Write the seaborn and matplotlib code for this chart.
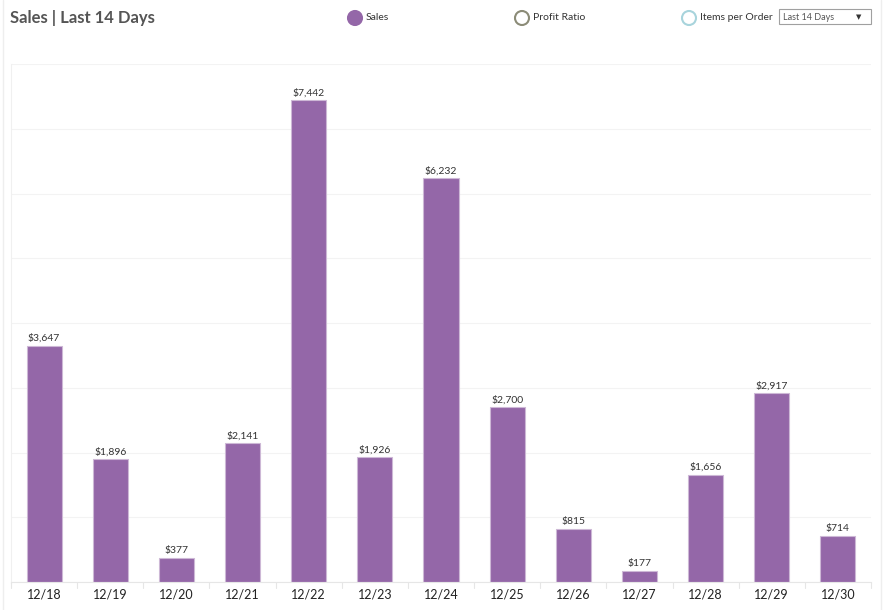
import matplotlib
matplotlib.use("Agg")
import matplotlib.pyplot as plt
import seaborn as sns
import pandas as pd
from matplotlib.patches import Rectangle, Ellipse

# dados
dias = ["12/18", "12/19", "12/20", "12/21", "12/22", "12/23", "12/24",
        "12/25", "12/26", "12/27", "12/28", "12/29", "12/30"]
vendas = [3647, 1896, 377, 2141, 7442, 1926, 6232, 2700, 815, 177, 1656, 2917, 714]
legenda = ["Sales", "Profit Ratio", "Items per Order"]

dados = pd.DataFrame({"dia": dias, "vendas": vendas})

roxo = "#9467a8"

sns.set_style("white")
plt.rcParams['font.family'] = ['Lato', 'DejaVu Sans']

fig = plt.figure(figsize=(8.95, 6.1), dpi=100)
ax = fig.add_axes([11 / 895, 1 - 582 / 610, 860 / 895, (582 - 64) / 610])

sns.barplot(data=dados, x="dia", y="vendas", color=roxo, width=0.53,
            saturation=1, edgecolor="#cdb8d6", linewidth=0.8, ax=ax)

ax.bar_label(ax.containers[0], labels=[f"${v:,}" for v in vendas],
             padding=2, fontsize=7.5, color="#333333")

ax.set_ylim(0, 8000)
ax.set_xlim(-0.5, len(dias) - 0.5)
ax.set_yticks(range(0, 8001, 1000))
ax.set_yticklabels([])
ax.tick_params(axis="y", length=0)
ax.yaxis.grid(True, color="#f3f3f3", linewidth=0.8)
ax.set_axisbelow(True)
ax.set_xlabel("")
ax.set_ylabel("")
ax.tick_params(axis="x", length=0, labelsize=9, colors="#222222", pad=5)
for s in ["top", "right"]:
    ax.spines[s].set_visible(False)
ax.spines["left"].set_color("#f0f0f0")
ax.spines["bottom"].set_color("#e6e6e6")

# separadores entre dias
for i in range(len(dias) + 1):
    ax.plot([i - 0.5, i - 0.5], [0, -0.012], transform=ax.get_xaxis_transform(),
            color="#e6e6e6", linewidth=0.8, clip_on=False)

# titulo
fig.text(10 / 895, 1 - 18 / 610, "Sales | Last 14 Days", fontsize=12,
         fontweight="bold", color="#555555", va="center", ha="left")

# legenda
pos = [355, 522, 689]
estilos = [dict(facecolor=roxo, edgecolor=roxo),
           dict(facecolor="white", edgecolor="#8c8c78"),
           dict(facecolor="white", edgecolor="#a8d4dc")]
for p, nome, st in zip(pos, legenda, estilos):
    fig.patches.append(Ellipse((p / 895, 1 - 18 / 610), 14 / 895, 14 / 610,
                               transform=fig.transFigure, linewidth=1.5, **st))
    fig.text((p + 11) / 895, 1 - 18 / 610, nome, fontsize=7.5,
             color="#333333", va="center", ha="left")

# filtro
fig.patches.append(Rectangle((779 / 895, 1 - 24 / 610), 92 / 895, 15 / 610,
                             transform=fig.transFigure, facecolor="white",
                             edgecolor="#a0a0a0", linewidth=0.8))
fig.text(783 / 895, 1 - 17 / 610, "Last 14 Days", fontsize=6.5,
         color="#555555", va="center", ha="left")
fig.text(859 / 895, 1 - 17 / 610, "▼", fontsize=5, color="#333333",
         va="center", ha="center", family="DejaVu Sans")

# bordas da pagina
fig.add_artist(plt.Line2D([3 / 895, 3 / 895], [0, 1],
                          transform=fig.transFigure, color="#eeeeee", linewidth=1))
fig.add_artist(plt.Line2D([881 / 895, 881 / 895], [0, 1],
                          transform=fig.transFigure, color="#eeeeee", linewidth=1))

fig.savefig("out.png", dpi=100)
